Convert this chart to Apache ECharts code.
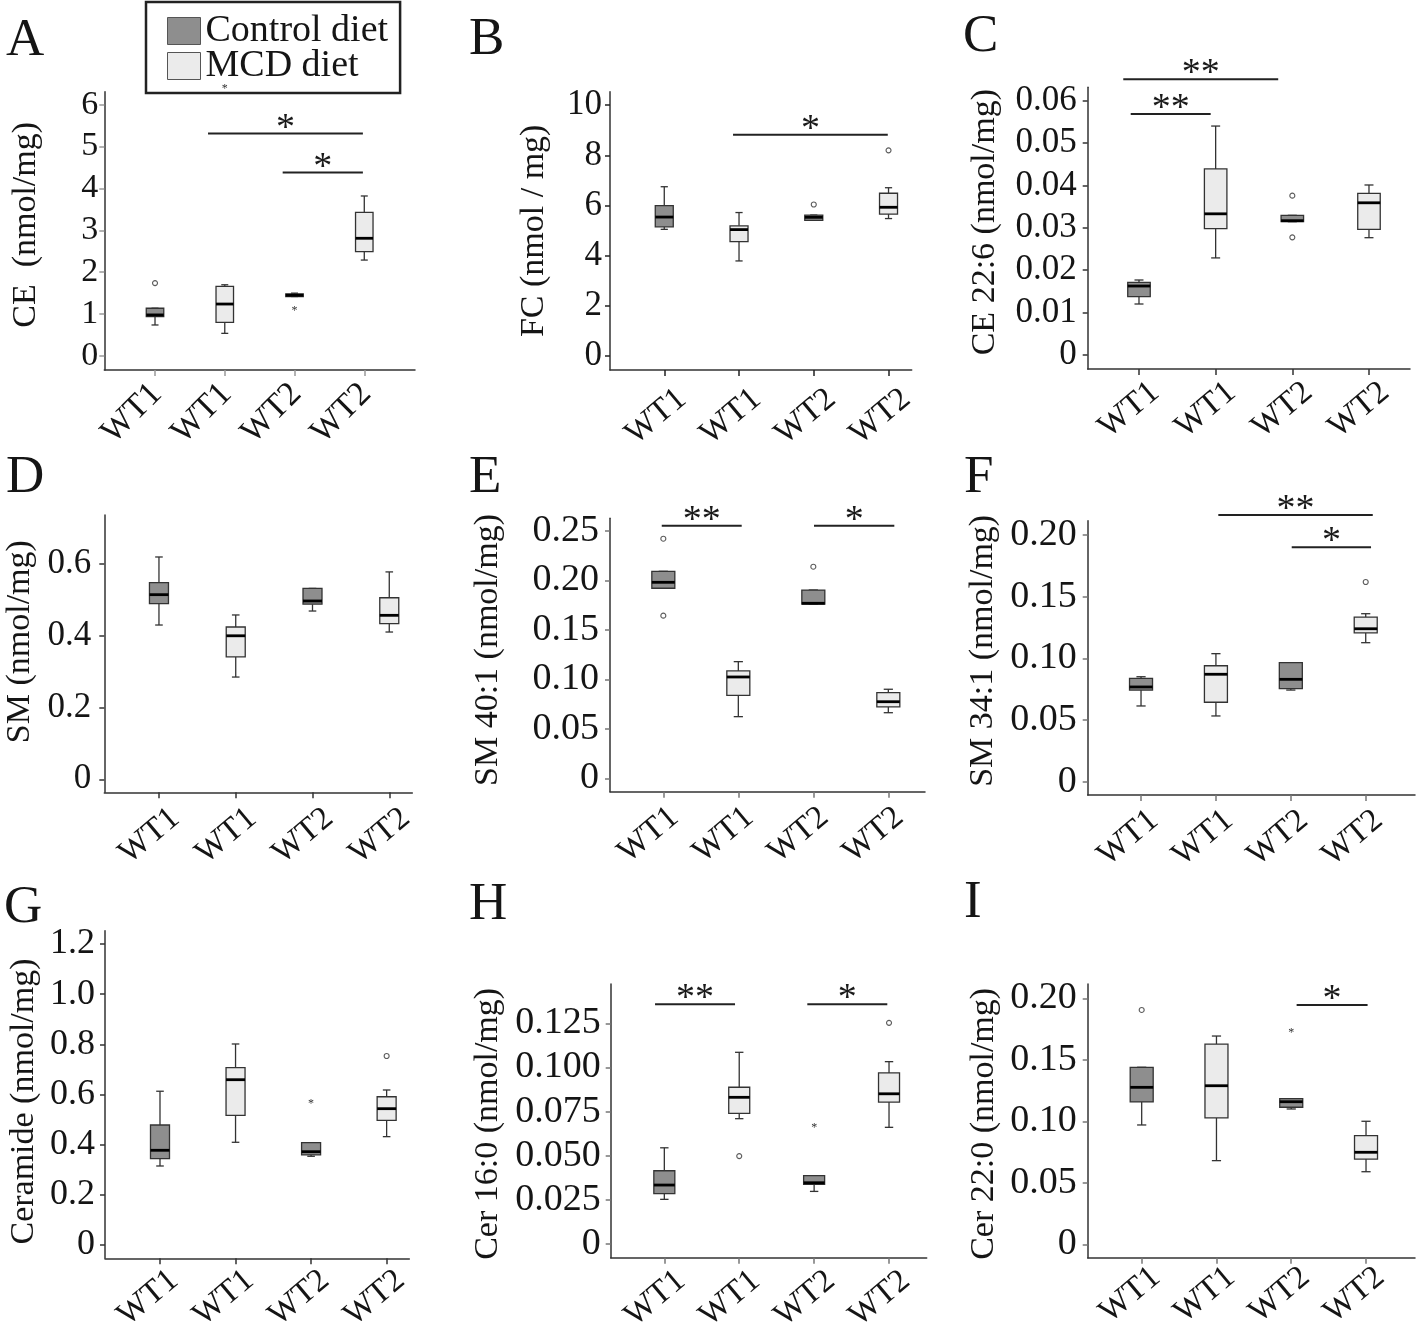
<!DOCTYPE html>
<html><head><meta charset="utf-8">
<script src="https://cdn.jsdelivr.net/npm/echarts@6/dist/echarts.min.js"></script>
<style>html,body{margin:0;padding:0;background:#fff}#chart{width:1418px;height:1325px}</style>
</head><body><div id="chart"></div>
<script>
// ---------------- DATA ----------------
const categories = ['WT1', 'WT1', 'WT2', 'WT2'];
const diets = ['Control diet', 'MCD diet', 'Control diet', 'MCD diet'];
const dietNames = ['Control diet', 'MCD diet'];
// stats per category: [min, Q1, median, Q3, max]

// A: CE
const ceStats = [[0.74, 0.94, 0.98, 1.14, 1.14], [0.54, 0.80, 1.24, 1.66, 1.70], [1.42, 1.42, 1.45, 1.48, 1.50], [2.29, 2.49, 2.81, 3.43, 3.82]];
const ceOutliers = [[1, 1.74]];
const ceExtremes = [[3, 1.12], [2, 6.41]];
const ceSignif = [[1.76, 3.98, 5.31], [2.83, 3.98, 4.38]];
const ceSignifLabels = ['*', '*'];
const ceTicks = ['0', '1', '2', '3', '4', '5', '6'];

// B: FC
const fcStats = [[5.05, 5.15, 5.54, 6.00, 6.75], [3.79, 4.56, 5.04, 5.19, 5.72], [5.41, 5.41, 5.53, 5.62, 5.62], [5.48, 5.66, 5.93, 6.49, 6.71]];
const fcOutliers = [[3, 6.04], [4, 8.2]];
const fcExtremes = [];
const fcSignif = [[1.92, 3.99, 8.82]];
const fcSignifLabels = ['*'];
const fcTicks = ['0', '2', '4', '6', '8', '10'];

// C: CE 22:6
const ce226Stats = [[0.01203, 0.01375, 0.01627, 0.01714, 0.01769], [0.0229, 0.0298, 0.0333, 0.0439, 0.0540], [0.03145, 0.03145, 0.03168, 0.03294, 0.03294], [0.02767, 0.02964, 0.0359, 0.0381, 0.0401]];
const ce226Outliers = [[3, 0.03758], [3, 0.02775]];
const ce226Extremes = [];
const ce226Signif = [[0.795, 2.816, 0.06502], [0.892, 1.935, 0.05684]];
const ce226SignifLabels = ['**', '**'];
const ce226Ticks = ['0', '0.01', '0.02', '0.03', '0.04', '0.05', '0.06'];

// D: SM
const smStats = [[0.430, 0.4895, 0.5146, 0.548, 0.6196], [0.285, 0.341, 0.400, 0.4245, 0.458], [0.469, 0.488, 0.497, 0.532, 0.532], [0.4105, 0.434, 0.457, 0.506, 0.578]];
const smOutliers = [];
const smExtremes = [];
const smSignif = [];
const smSignifLabels = [];
const smTicks = ['0', '0.2', '0.4', '0.6'];

// E: SM 40:1
const sm401Stats = [[0.1921, 0.1921, 0.1981, 0.2092, 0.2092], [0.0623, 0.0839, 0.1024, 0.1085, 0.1179], [0.1762, 0.1762, 0.1769, 0.1903, 0.1903], [0.0663, 0.0721, 0.0774, 0.0865, 0.0900]];
const sm401Outliers = [[1, 0.2422], [1, 0.1644], [3, 0.2139]];
const sm401Extremes = [];
const sm401Signif = [[0.979, 2.045, 0.2553], [3.009, 4.08, 0.2553]];
const sm401SignifLabels = ['**', '*'];
const sm401Ticks = ['0', '0.05', '0.10', '0.15', '0.20', '0.25'];

// F: SM 34:1
const sm341Stats = [[0.0614, 0.0743, 0.0768, 0.0838, 0.0851], [0.0533, 0.0644, 0.0871, 0.0940, 0.1038], [0.0743, 0.0754, 0.0830, 0.0965, 0.0965], [0.1127, 0.1206, 0.1240, 0.1335, 0.1362]];
const sm341Outliers = [[4, 0.1619]];
const sm341Extremes = [];
const sm341Signif = [[2.032, 4.094, 0.2162], [3.012, 4.071, 0.1900]];
const sm341SignifLabels = ['**', '*'];
const sm341Ticks = ['0', '0.05', '0.10', '0.15', '0.20'];

// G: Ceramide
const cerStats = [[0.315, 0.344, 0.3776, 0.4785, 0.613], [0.4095, 0.517, 0.659, 0.707, 0.8014], [0.3537, 0.359, 0.372, 0.408, 0.408], [0.432, 0.497, 0.5435, 0.591, 0.618]];
const cerOutliers = [[4, 0.7536]];
const cerExtremes = [[3, 0.569]];
const cerSignif = [];
const cerSignifLabels = [];
const cerTicks = ['0', '0.2', '0.4', '0.6', '0.8', '1.0', '1.2'];

// H: Cer 16:0
const cer160Stats = [[0.0253, 0.0285, 0.0334, 0.0415, 0.0545], [0.0710, 0.0740, 0.0831, 0.0888, 0.1086], [0.0298, 0.0338, 0.0347, 0.0387, 0.0387], [0.0661, 0.0804, 0.0851, 0.0969, 0.1033]];
const cer160Outliers = [[2, 0.0498], [4, 0.1253]];
const cer160Extremes = [[3, 0.0664]];
const cer160Signif = [[0.876, 1.944, 0.1358], [2.909, 3.977, 0.1358]];
const cer160SignifLabels = ['**', '*'];
const cer160Ticks = ['0', '0.025', '0.050', '0.075', '0.100', '0.125'];

// I: Cer 22:0
const cer220Stats = [[0.0970, 0.1157, 0.1276, 0.1439, 0.1439], [0.0680, 0.1027, 0.1289, 0.1628, 0.1693], [0.1100, 0.1114, 0.1159, 0.1184, 0.1184], [0.0590, 0.0693, 0.0748, 0.0883, 0.1000]];
const cer220Outliers = [[1, 0.1905]];
const cer220Extremes = [[3, 0.1728]];
const cer220Signif = [[3.072, 4.021, 0.1946]];
const cer220SignifLabels = ['*'];
const cer220Ticks = ['0', '0.05', '0.10', '0.15', '0.20'];

const panels = [
  {letter: 'A', yName: 'CE  (nmol/mg)', stats: ceStats, outliers: ceOutliers, extremes: ceExtremes, signif: ceSignif, signifLabels: ceSignifLabels, ticks: ceTicks},
  {letter: 'B', yName: 'FC (nmol / mg)', stats: fcStats, outliers: fcOutliers, extremes: fcExtremes, signif: fcSignif, signifLabels: fcSignifLabels, ticks: fcTicks},
  {letter: 'C', yName: 'CE 22:6 (nmol/mg)', stats: ce226Stats, outliers: ce226Outliers, extremes: ce226Extremes, signif: ce226Signif, signifLabels: ce226SignifLabels, ticks: ce226Ticks},
  {letter: 'D', yName: 'SM (nmol/mg)', stats: smStats, outliers: smOutliers, extremes: smExtremes, signif: smSignif, signifLabels: smSignifLabels, ticks: smTicks},
  {letter: 'E', yName: 'SM 40:1 (nmol/mg)', stats: sm401Stats, outliers: sm401Outliers, extremes: sm401Extremes, signif: sm401Signif, signifLabels: sm401SignifLabels, ticks: sm401Ticks},
  {letter: 'F', yName: 'SM 34:1 (nmol/mg)', stats: sm341Stats, outliers: sm341Outliers, extremes: sm341Extremes, signif: sm341Signif, signifLabels: sm341SignifLabels, ticks: sm341Ticks},
  {letter: 'G', yName: 'Ceramide (nmol/mg)', stats: cerStats, outliers: cerOutliers, extremes: cerExtremes, signif: cerSignif, signifLabels: cerSignifLabels, ticks: cerTicks},
  {letter: 'H', yName: 'Cer 16:0 (nmol/mg)', stats: cer160Stats, outliers: cer160Outliers, extremes: cer160Extremes, signif: cer160Signif, signifLabels: cer160SignifLabels, ticks: cer160Ticks},
  {letter: 'I', yName: 'Cer 22:0 (nmol/mg)', stats: cer220Stats, outliers: cer220Outliers, extremes: cer220Extremes, signif: cer220Signif, signifLabels: cer220SignifLabels, ticks: cer220Ticks}
];

// ---------------- LAYOUT / STYLE ----------------
// xLab: desired centre of the rotated x label relative to [tick x, axis line y]
const layout = [
  {letterX: 6, letterY: 15, left: 104.3, top: 91.7, width: 310.7, height: 278.3, xMin: 0.273, xMax: 4.727, yMin: -0.335, yMax: 6.31, boxW: 17.5, nameGap: 61.6, nameShift: 6, labelMargin: 6, yFs: 34, tickColor: '#999', xRot: 45, xFs: 34, xLab: [-23, 43.5]},
  {letterX: 469, letterY: 14, left: 610, top: 91.7, width: 301.7, height: 278.3, xMin: 0.274, xMax: 4.31, yMin: -0.56, yMax: 10.54, boxW: 18, nameGap: 58.8, nameShift: 0, labelMargin: 8, yFs: 35, tickColor: '#222', xRot: 40, xFs: 33, xLab: [-8.3, 46.7]},
  {letterX: 963, letterY: 11, left: 1087.7, top: 87.3, width: 322.3, height: 281.7, xMin: 0.331, xMax: 4.535, yMin: -0.0033, yMax: 0.06314, boxW: 22.5, nameGap: 85.5, nameShift: 6, labelMargin: 11, yFs: 35, tickColor: '#333', xRot: 40, xFs: 33, xLab: [-10, 41]},
  {letterX: 6, letterY: 452, left: 104.3, top: 515, width: 308, height: 277.3, xMin: 0.288, xMax: 4.3, yMin: -0.0362, yMax: 0.7366, boxW: 19, nameGap: 67.6, nameShift: 12, labelMargin: 13, yFs: 35, tickColor: '#333', xRot: 40, xFs: 33, xLab: [-9.5, 43.7]},
  {letterX: 469, letterY: 452, left: 610, top: 518.3, width: 315, height: 273.4, xMin: 0.289, xMax: 4.489, yMin: -0.01355, yMax: 0.2628, boxW: 23, nameGap: 104.8, nameShift: 5, labelMargin: 11, yFs: 38, tickColor: '#777', xRot: 40, xFs: 33, xLab: [-15, 43.3]},
  {letterX: 964, letterY: 452, left: 1087.7, top: 520.7, width: 327.3, height: 274.3, xMin: 0.288, xMax: 4.658, yMin: -0.01078, yMax: 0.2116, boxW: 23, nameGap: 88, nameShift: 7, labelMargin: 11, yFs: 38, tickColor: '#777', xRot: 40, xFs: 33, xLab: [-13, 43]},
  {letterX: 4, letterY: 882, left: 105, top: 930.7, width: 304.3, height: 327.6, xMin: 0.272, xMax: 4.3, yMin: -0.053, yMax: 1.253, boxW: 19, nameGap: 63.8, nameShift: -7, labelMargin: 10, yFs: 36, tickColor: '#333', xRot: 40, xFs: 33, xLab: [-12, 39.7]},
  {letterX: 469, letterY: 879, left: 610.7, top: 984, width: 316, height: 273.7, xMin: 0.284, xMax: 4.503, yMin: -0.00776, yMax: 0.1473, boxW: 21, nameGap: 106, nameShift: -3, labelMargin: 10, yFs: 38, tickColor: '#777', xRot: 40, xFs: 33, xLab: [-9.3, 40.8]},
  {letterX: 964, letterY: 877, left: 1087.7, top: 984, width: 327.3, height: 273.7, xMin: 0.278, xMax: 4.655, yMin: -0.0109, yMax: 0.2116, boxW: 23, nameGap: 87, nameShift: -3, labelMargin: 11, yFs: 38, tickColor: '#777', xRot: 40, xFs: 33, xLab: [-11.7, 37.3]}
];

const FONT = '"Liberation Serif", "Times New Roman", serif';
const TEXT = '#151515';
const AXIS = '#333';
const FILLS = {'Control diet': '#8e8e8e', 'MCD diet': '#ebebeb'};

// centred rotated label + trailing blank spacer (shifts the visible text along its baseline)
function xLabelStyle(L) {
  const th = L.xRot * Math.PI / 180;
  const w = Math.max(0, -2 * L.xLab[0] / Math.cos(th));
  const m = L.xLab[1] - (w / 2) * Math.sin(th);
  return {margin: m, spacer: w};
}

function makeBoxRenderer(boxW, fill) {
  return function (params, api) {
    const x = api.value(0);
    const p = v => api.coord([x, v]);
    const pMin = p(api.value(1)), pQ1 = p(api.value(2)), pMed = p(api.value(3)), pQ3 = p(api.value(4)), pMax = p(api.value(5));
    const cx = pMed[0];
    const hw = boxW / 2, cw = boxW * 0.2;
    const ls = {stroke: '#333', lineWidth: 1.3};
    return {type: 'group', children: [
      {type: 'line', shape: {x1: cx, y1: pQ3[1], x2: cx, y2: pMax[1]}, style: ls},
      {type: 'line', shape: {x1: cx - cw, y1: pMax[1], x2: cx + cw, y2: pMax[1]}, style: ls},
      {type: 'line', shape: {x1: cx, y1: pQ1[1], x2: cx, y2: pMin[1]}, style: ls},
      {type: 'line', shape: {x1: cx - cw, y1: pMin[1], x2: cx + cw, y2: pMin[1]}, style: ls},
      {type: 'rect', shape: {x: cx - hw, y: pQ3[1], width: boxW, height: Math.max(pQ1[1] - pQ3[1], 1)}, style: {fill: fill, stroke: '#333', lineWidth: 1.3}},
      {type: 'line', shape: {x1: cx - hw, y1: pMed[1], x2: cx + hw, y2: pMed[1]}, style: {stroke: '#000', lineWidth: 2.8}}
    ]};
  };
}

function makeSignifRenderer(labels) {
  return function (params, api) {
    const p1 = api.coord([api.value(0), api.value(2)]);
    const p2 = api.coord([api.value(1), api.value(2)]);
    return {type: 'group', children: [
      {type: 'line', shape: {x1: p1[0], y1: p1[1], x2: p2[0], y2: p2[1]}, style: {stroke: '#222', lineWidth: 2}},
      {type: 'text', x: (p1[0] + p2[0]) / 2, y: p1[1] - 5, style: {text: labels[params.dataIndex], fontSize: 38, fontFamily: FONT, fill: '#1a1a1a', align: 'center', verticalAlign: 'middle'}}
    ]};
  };
}

function renderExtreme(params, api) {
  const pt = api.coord([api.value(0), api.value(1)]);
  return {type: 'text', x: pt[0], y: pt[1] + 1.5, style: {text: '*', fontSize: 12, fontFamily: FONT, fill: '#333', align: 'center', verticalAlign: 'middle'}};
}

const grids = [], xAxes = [], yAxes = [], series = [], graphics = [];

panels.forEach((pn, i) => {
  const L = layout[i];
  grids.push({left: L.left, top: L.top, width: L.width, height: L.height, containLabel: false, outerBoundsMode: 'none'});
  const tickVals = pn.ticks.map(Number);
  const xl = xLabelStyle(L);
  xAxes.push({
    type: 'value', gridIndex: i, min: L.xMin, max: L.xMax,
    axisLine: {show: true, onZero: false, lineStyle: {color: AXIS, width: 1.5}},
    axisTick: {show: true, customValues: [1, 2, 3, 4], length: 6, lineStyle: {color: L.tickColor, width: 1.5}},
    axisLabel: {show: true, customValues: [1, 2, 3, 4],
      formatter: v => categories[Math.round(v) - 1] + '{sp| }',
      rich: {sp: {width: xl.spacer, fontSize: L.xFs, fontFamily: FONT}},
      rotate: L.xRot, fontSize: L.xFs, fontFamily: FONT, color: TEXT, align: 'center', verticalAlign: 'middle',
      margin: xl.margin},
    splitLine: {show: false}
  });
  const namePad = L.nameShift >= 0 ? [0, 0, 0, 2 * L.nameShift] : [0, -2 * L.nameShift, 0, 0];
  yAxes.push({
    type: 'value', gridIndex: i, min: L.yMin, max: L.yMax,
    name: pn.yName, nameLocation: 'middle', nameGap: L.nameGap,
    nameTextStyle: {fontSize: 34, fontFamily: FONT, color: TEXT, padding: namePad},
    axisLine: {show: true, onZero: false, lineStyle: {color: AXIS, width: 1.5}},
    axisTick: {show: true, customValues: tickVals, length: 5, lineStyle: {color: L.tickColor, width: 1.5}},
    axisLabel: {show: true, customValues: tickVals, fontSize: L.yFs, fontFamily: FONT, color: TEXT, margin: L.labelMargin,
      formatter: v => { let best = 0; tickVals.forEach((t, k) => { if (Math.abs(t - v) < Math.abs(tickVals[best] - v)) best = k; }); return pn.ticks[best]; }},
    splitLine: {show: false}
  });
  dietNames.forEach(d => {
    const data = [];
    pn.stats.forEach((s, k) => { if (diets[k] === d) data.push([k + 1].concat(s)); });
    series.push({
      type: 'custom', name: d, xAxisIndex: i, yAxisIndex: i, silent: true,
      itemStyle: {color: FILLS[d], borderColor: '#555', borderWidth: 1},
      encode: {x: 0, y: [1, 2, 3, 4, 5]},
      renderItem: makeBoxRenderer(L.boxW, FILLS[d]),
      data: data, clip: false
    });
  });
  if (pn.outliers.length) {
    series.push({type: 'scatter', name: 'outlier', xAxisIndex: i, yAxisIndex: i, silent: true, clip: false,
      symbol: 'circle', symbolSize: 5, itemStyle: {color: '#fff', borderColor: '#333', borderWidth: 1.1},
      data: pn.outliers});
  }
  if (pn.extremes.length) {
    series.push({type: 'custom', name: 'extreme', xAxisIndex: i, yAxisIndex: i, silent: true, clip: false, z: 10,
      renderItem: renderExtreme, encode: {x: 0, y: 1}, data: pn.extremes});
  }
  if (pn.signif.length) {
    series.push({type: 'custom', name: 'signif', xAxisIndex: i, yAxisIndex: i, silent: true, clip: false,
      renderItem: makeSignifRenderer(pn.signifLabels), encode: {x: [0, 1], y: 2}, data: pn.signif});
  }
  graphics.push({type: 'text', x: L.letterX, y: L.letterY, silent: true,
    style: {text: pn.letter, fontSize: 53, fontFamily: FONT, fill: TEXT, align: 'left', verticalAlign: 'top'}});
});

const chart = echarts.init(document.getElementById('chart'), null, {renderer: 'canvas'});
chart.setOption({
  backgroundColor: '#fff',
  animation: false,
  textStyle: {fontFamily: FONT},
  legend: {
    orient: 'vertical', left: 146, top: 2, padding: [10, 12, 8, 21],
    itemWidth: 33, itemHeight: 27, itemGap: -3, selectedMode: false,
    borderColor: '#222', borderWidth: 2.5, backgroundColor: '#fff',
    textStyle: {fontSize: 38, fontFamily: FONT, color: TEXT},
    data: [
      {name: 'Control diet', icon: 'rect', itemStyle: {color: FILLS['Control diet'], borderColor: '#555', borderWidth: 1}},
      {name: 'MCD diet', icon: 'rect', itemStyle: {color: FILLS['MCD diet'], borderColor: '#555', borderWidth: 1}}
    ]
  },
  grid: grids, xAxis: xAxes, yAxis: yAxes, series: series, graphic: graphics
});
</script></body></html>
